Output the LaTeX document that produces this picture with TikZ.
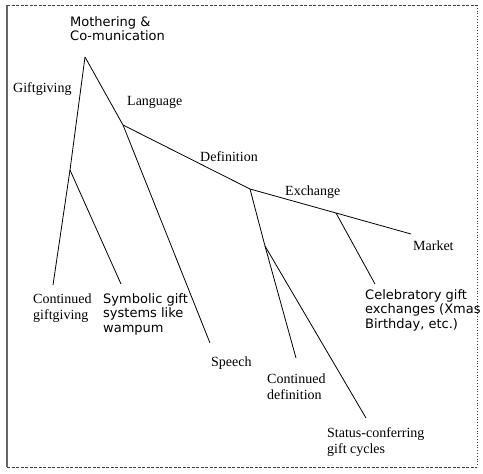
\documentclass[tikz,border=0pt]{standalone}
\usepackage{fontspec}
\newfontfamily\sansf{DejaVu Sans}
\newfontfamily\seriff{Liberation Serif}
\begin{document}
\begin{tikzpicture}[x=1pt,y=-1pt,
  branch/.style={line width=0.8pt,black},
  sanslab/.style={font=\sansf\fontsize{13}{14.7}\selectfont,inner sep=0pt,anchor=north west,align=left},
  seriflab/.style={font=\seriff\fontsize{14}{16}\selectfont,inner sep=0pt,anchor=north west,align=left},
  frame/.style={line width=0.8pt,black!75}]
\useasboundingbox (0,0) rectangle (483,474);
% frame
\draw[frame,line width=1.2pt,black!60] (7,5) -- (7,467);
\draw[frame,dashed,dash pattern=on 3pt off 1.5pt] (7,5) -- (477,5);
\draw[frame,dotted] (477,5) -- (477,467);
\draw[frame,dashed,dash pattern=on 3pt off 1.5pt] (7,467) -- (477,467);
% junctions and ends
\coordinate (root) at (85,57);
\coordinate (gj) at (70,170);
\coordinate (cge) at (53,285);
\coordinate (sge) at (121,284);
\coordinate (lj) at (123,125);
\coordinate (spe) at (210,343);
\coordinate (dj) at (250,189);
\coordinate (ej) at (336,213);
\coordinate (mke) at (411,234);
\coordinate (cee) at (375,284);
\coordinate (dj2) at (265,246);
\coordinate (cde) at (296,358);
\coordinate (ste) at (366,418);
% branches
\draw[branch] (root) -- (gj) -- (cge);
\draw[branch] (gj) -- (sge);
\draw[branch] (root) -- (lj) -- (spe);
\draw[branch] (lj) -- (dj) -- (ej) -- (mke);
\draw[branch] (ej) -- (cee);
\draw[branch] (dj) -- (dj2) -- (cde);
\draw[branch] (dj2) -- (ste);
% labels
\node[sanslab] (moth) at (70,16) {Mothering \&\\Co-munication};
\node[seriflab] (gift) at (13,82) {Giftgiving};
\node[seriflab] (lang) at (127,96) {Language};
\node[seriflab] (defi) at (200,151) {Definition};
\node[seriflab] (exch) at (285,186) {Exchange};
\node[seriflab] (mark) at (413,241) {Market};
\node[sanslab] (cele) at (365,289) {Celebratory gift\\exchanges (Xmas\\Birthday, etc.)};
\node[seriflab] (cgiv) at (33,294) {Continued\\giftgiving};
\node[sanslab] (symb) at (103,293) {Symbolic gift\\systems like\\wampum};
\node[seriflab] (spee) at (211,357) {Speech};
\node[seriflab] (cdef) at (267,374) {Continued\\definition};
\node[seriflab] (stat) at (327,427) {Status-conferring\\gift cycles};
\end{tikzpicture}
\end{document}
